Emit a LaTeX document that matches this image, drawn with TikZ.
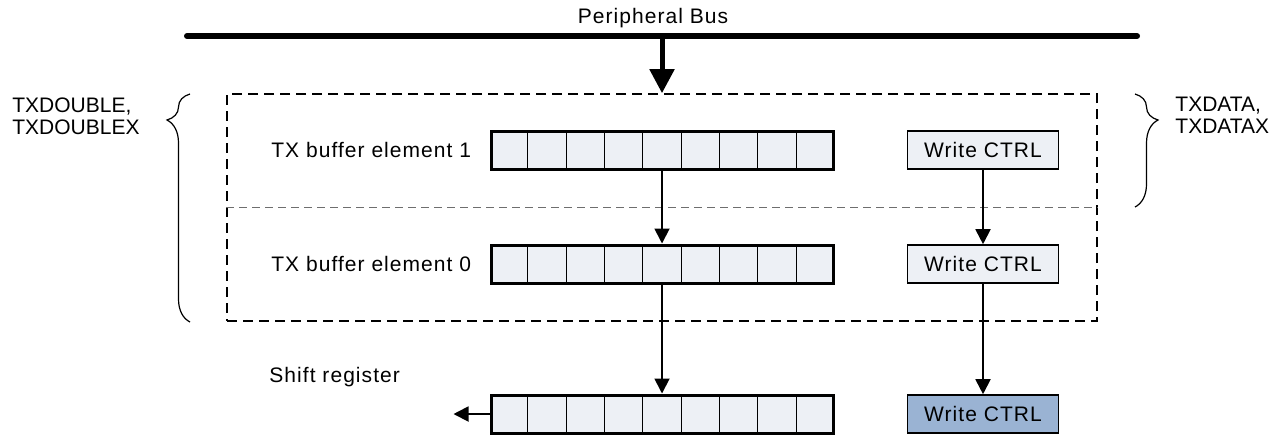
\documentclass[tikz,border=0pt]{standalone}
\usepackage{fontspec}
\setmainfont{Liberation Sans}
\newfontfamily\spaced[LetterSpace=5]{Liberation Sans}
\usetikzlibrary{arrows.meta,positioning,calc,decorations.pathreplacing}
\definecolor{cellfill}{HTML}{EDF0F5}
\definecolor{ctrlblue}{HTML}{9AB3D3}
\definecolor{midgray}{HTML}{6E6E6E}

\begin{document}
\begin{tikzpicture}[
    x=0.5pt, y=-0.5pt,
    font=\fontsize{10.5}{11}\selectfont,
    reg/.style={draw, line width=1.5pt, fill=cellfill, minimum width=171pt, minimum height=19pt, inner sep=0pt},
    ctrl/.style={draw, line width=0.8pt, fill=cellfill, minimum width=75.5pt, minimum height=19pt, inner sep=0pt, font=\fontsize{10.5}{11}\spaced},
    lbl/.style={inner sep=0pt, font=\fontsize{10.5}{11}\spaced},
    regname/.style={inner sep=0pt, anchor=north west, align=left},
    flow/.style={-{Triangle[length=7.5pt,width=7.5pt]}, line width=0.9pt},
    bufbox/.style={draw, dash pattern=on 5pt off 3pt, line width=0.8pt, minimum width=435pt, minimum height=113.5pt, inner sep=0pt},
    brc/.style={decorate, line width=0.6pt}
]
    \useasboundingbox (0,0) rectangle (1288,435);

    % peripheral bus
    \node[lbl] (bus) at (653,18) {Peripheral Bus};
    \coordinate (busl) at (187,36);
    \coordinate (busr) at (1137,36);
    \draw[line width=3pt, line cap=round] (busl) -- (busr);

    % double buffer
    \node[bufbox] (frame) at (662,207.5) {};
    \draw[midgray, dash pattern=on 4pt off 2.5pt, line width=0.5pt] (frame.west) -- (frame.east);
    \draw[-{Triangle[length=12pt,width=12pt]}, line width=2.5pt] (frame.north |- busl) -- (frame.north);

    \node[reg] (buf1) at (662,150) {};
    \node[reg] (buf0) at (662,264) {};
    \node[reg] (shift) at (662,414) {};
    \foreach \r in {buf1,buf0,shift}
      \foreach \i in {1,...,8}
        \draw[line width=0.5pt] ($(\r.south west)!\i/9!(\r.south east)$) -- ($(\r.north west)!\i/9!(\r.north east)$);

    \node[lbl, left=9pt of buf1] (l1) {TX buffer element 1};
    \node[lbl, left=9pt of buf0] (l0) {TX buffer element 0};
    \node[lbl, anchor=west] (lsh) at (269,377) {Shift register};

    \node[ctrl] (wc1) at (983,150) {Write CTRL};
    \node[ctrl] (wc0) at (983,264) {Write CTRL};
    \node[ctrl, fill=ctrlblue] (wc2) at (983,414) {Write CTRL};

    \coordinate[left=18pt of shift] (sout);

    \draw[flow] (buf1) -- (buf0);
    \draw[flow] (buf0) -- (shift);
    \draw[flow] (shift) -- (sout);
    \draw[flow] (wc1) -- (wc0);
    \draw[flow] (wc0) -- (wc2);

    % register names
    \draw[brc, decoration={brace, amplitude=11.5pt, aspect=0.886}] (190,322) -- (190,94);
    \draw[brc, decoration={brace, amplitude=11.5pt, aspect=0.23}] (1135,94) -- (1135,207);
    \node[regname] (txd) at (12,97) {TXDOUBLE,\\TXDOUBLEX};
    \node[regname] (txa) at (1175,97) {TXDATA,\\TXDATAX};
\end{tikzpicture}
\end{document}
